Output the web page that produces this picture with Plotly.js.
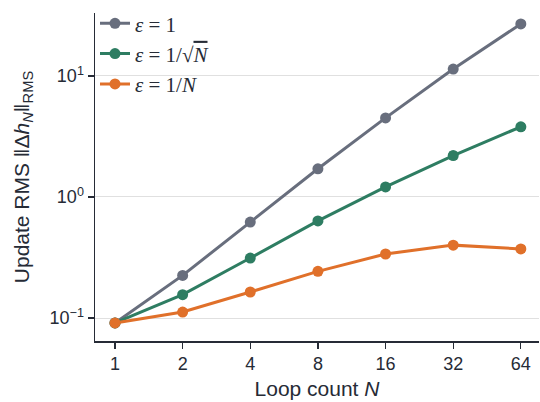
<!DOCTYPE html>
<html>
<head>
<meta charset="utf-8">
<script src="https://cdn.plot.ly/plotly-3.0.1.min.js"></script>
<style>html,body{margin:0;padding:0;background:#fff;}#chart{width:540px;height:402px;}</style>
</head>
<body>
<div id="chart"></div>
<script>
const loopCounts = [1, 2, 4, 8, 16, 32, 64];
const tickLabels = ["1", "2", "4", "8", "16", "32", "64"];
const rmsEps1 = [0.091, 0.225, 0.62, 1.71, 4.5, 11.4, 26.9];
const rmsEpsSqrt = [0.091, 0.156, 0.313, 0.634, 1.21, 2.2, 3.8];
const rmsEpsInv = [0.091, 0.112, 0.164, 0.243, 0.338, 0.40, 0.372];
const errEps1 = [0.003, 0.007, 0.02, 0.05, 0.15, 0.4, 0.9];
const errEpsSqrt = [0.003, 0.006, 0.012, 0.025, 0.06, 0.14, 0.22];
const errEpsInv = [0.003, 0.005, 0.008, 0.014, 0.016, 0.02, 0.022];
const seriesNames = [
  "<i>ε</i> = 1",
  "<i>ε</i> = 1/√<span style=\"text-decoration:overline\"><i>N</i></span>",
  "<i>ε</i> = 1/<i>N</i>"
];
const colors = ["#686e7d", "#2e7d62", "#e0702a"];
const yTickVals = [0.1, 1, 10];
const yTickText = ["10<sup>−1</sup>", "10<sup>0</sup>", "10<sup>1</sup>"];

const series = [rmsEps1, rmsEpsSqrt, rmsEpsInv];
const errs = [errEps1, errEpsSqrt, errEpsInv];
const traces = series.map((ys, i) => ({
  x: loopCounts, y: ys, name: seriesNames[i], type: "scatter", mode: "lines+markers",
  line: {color: colors[i], width: 3},
  marker: {color: colors[i], size: 11},
  error_y: {type: "data", array: errs[i], visible: true, color: colors[i], thickness: 1.5, width: 4}
}));

const layout = {
  width: 540, height: 402,
  margin: {l: 95, r: 1, t: 13, b: 61},
  paper_bgcolor: "#fff", plot_bgcolor: "#fff",
  font: {family: "'Liberation Sans', Arial, sans-serif", color: "#262b36", size: 17},
  showlegend: true,
  legend: {x: 0.0, y: 1.03, xanchor: "left", yanchor: "top", bgcolor: "rgba(0,0,0,0)",
           font: {family: "'Liberation Serif', 'DejaVu Serif', serif", size: 21, color: "#262b36"},
           tracegroupgap: 0, itemwidth: 30},
  xaxis: {
    type: "log", range: [-0.089, 1.887],
    tickvals: loopCounts, ticktext: tickLabels,
    showgrid: false, zeroline: false,
    showline: true, linecolor: "#262b36", linewidth: 1.5,
    ticks: "outside", ticklen: 6, tickwidth: 1.2, tickcolor: "#262b36",
    tickfont: {size: 18},
    title: {text: "Loop count <i>N</i>", font: {size: 21}, standoff: 8}
  },
  yaxis: {
    type: "log", range: [-1.19, 1.52],
    tickvals: yTickVals, ticktext: yTickText,
    showgrid: true, gridcolor: "#e0e0e0", gridwidth: 1, zeroline: false,
    showline: true, linecolor: "#262b36", linewidth: 1.5,
    ticks: "outside", ticklen: 6, tickwidth: 1.2, tickcolor: "#262b36",
    tickfont: {size: 18},
    title: {text: "Update RMS ‖Δ<i>h</i><sub><i>N</i></sub>‖<sub>RMS</sub>", font: {size: 21}, standoff: 14}
  }
};
Plotly.newPlot("chart", traces, layout, {displayModeBar: false, staticPlot: true});
</script>
</body>
</html>
